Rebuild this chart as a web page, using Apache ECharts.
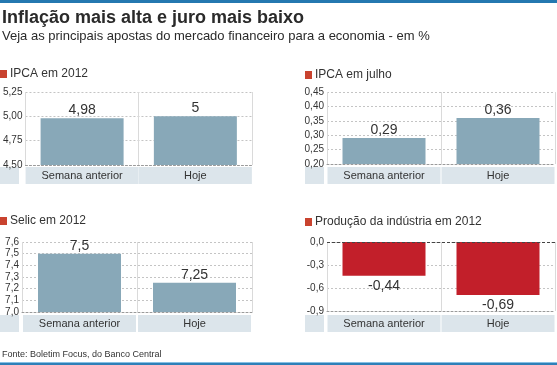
<!DOCTYPE html>
<html>
<head>
<meta charset="utf-8">
<script src="https://cdn.jsdelivr.net/npm/echarts@6/dist/echarts.min.js"></script>
<style>html,body{margin:0;padding:0;background:#fff}#c{width:557px;height:365px}</style>
</head>
<body>
<div id="c"></div>
<script>
const categories = ['Semana anterior', 'Hoje'];
const ipcaAno = [4.98, 5];
const ipcaJulho = [0.29, 0.36];
const selicAno = [7.5, 7.25];
const producaoAno = [-0.44, -0.69];
const ipcaAnoTicks = [4.50, 4.75, 5.00, 5.25];
const ipcaJulhoTicks = [0.20, 0.25, 0.30, 0.35, 0.40, 0.45];
const selicTicks = [7.0, 7.1, 7.2, 7.3, 7.4, 7.5, 7.6];
const producaoTicks = [-0.9, -0.6, -0.3, 0.0];
const panelTitles = ['IPCA em 2012', 'IPCA em julho', 'Selic em 2012', 'Produção da indústria em 2012'];
const mainTitle = 'Inflação mais alta e juro mais baixo';
const subTitle = 'Veja as principais apostas do mercado financeiro para a economia - em %';
const footer = 'Fonte: Boletim Focus, do Banco Central';

const FONT = '"Liberation Sans", Arial, sans-serif';
const comma = v => String(v).replace('.', ',');

function yAxisFor(ticks, decimals, gi) {
  const step = Math.round((ticks[1] - ticks[0]) * 1000) / 1000;
  return {
    type: 'value', gridIndex: gi,
    min: ticks[0], max: ticks[ticks.length - 1], interval: step,
    axisLine: {show: false}, axisTick: {show: false},
    splitLine: {show: true, lineStyle: {color: '#c4c4c4', type: [2, 2], width: 1}},
    axisLabel: {fontFamily: FONT, fontSize: 10, color: '#333', margin: 3,
      formatter: v => v.toFixed(decimals).replace('.', ',')}
  };
}
function xAxisFor(gi, margin) {
  return {
    type: 'category', gridIndex: gi, data: categories,
    axisTick: {show: false},
    axisLine: {onZero: false, lineStyle: {color: '#9a9a9a', type: [2, 2], width: 1}},
    splitLine: {show: true, lineStyle: {color: '#dadada', width: 1}},
    axisLabel: {interval: 0, margin: margin, fontFamily: FONT, fontSize: 11, color: '#333',
      backgroundColor: '#dce5eb', width: 113, height: 17, lineHeight: 17, align: 'center', padding: 0}
  };
}
function barSeries(data, gi, color, pos) {
  return {
    type: 'bar', xAxisIndex: gi, yAxisIndex: gi, data: data, barWidth: 83,
    itemStyle: {color: color},
    label: {show: true, position: pos, distance: pos === 'top' ? 1 : 3, fontFamily: FONT, fontSize: 14, color: '#333',
      formatter: p => comma(p.value)},
    silent: true
  };
}

const chart = echarts.init(document.getElementById('c'), null, {renderer: 'canvas'});
const redSq = '#c9432f', band = '#dce5eb';
const g = [];
g.push({type: 'rect', shape: {x: 0, y: 0, width: 557, height: 3}, style: {fill: '#2478b0'}});
g.push({type: 'rect', shape: {x: 0, y: 362, width: 557, height: 1}, style: {fill: '#86c0e4'}});
g.push({type: 'rect', shape: {x: 0, y: 363, width: 557, height: 2}, style: {fill: '#2f80b8'}});
g.push({type: 'text', x: 2, y: 18, style: {text: mainTitle, font: 'bold 18px ' + FONT, fill: '#2a2a2a', verticalAlign: 'middle'}});
g.push({type: 'text', x: 2, y: 36, style: {text: subTitle, font: '13px ' + FONT, fill: '#2a2a2a', verticalAlign: 'middle'}});
g.push({type: 'text', x: 2, y: 355, style: {text: footer, font: '9px ' + FONT, fill: '#333', verticalAlign: 'middle'}});
const titlePos = [[0, 74], [305, 75], [0, 221], [305, 222]];
titlePos.forEach((p, i) => {
  g.push({type: 'rect', shape: {x: p[0], y: p[1] - 4, width: 7, height: 8}, style: {fill: redSq}});
  g.push({type: 'text', x: p[0] + 10, y: p[1], style: {text: panelTitles[i], font: '12px ' + FONT, fill: '#333', verticalAlign: 'middle'}});
});
[[0, 167, 19], [305, 167, 19], [0, 315, 19], [305, 315, 19]].forEach(c => {
  g.push({type: 'rect', shape: {x: c[0], y: c[1], width: c[2], height: 17}, style: {fill: band}});
});

const prodSeries = barSeries(producaoAno, 3, '#c21f2a', 'bottom');
prodSeries.markLine = {silent: true, symbol: 'none', label: {show: false},
  lineStyle: {color: '#444', type: [3, 2], width: 1}, data: [{yAxis: 0}]};

chart.setOption({
  animation: false,
  backgroundColor: '#fff',
  grid: [
    {left: 22, top: 92, width: 230, height: 73},
    {left: 327, top: 92, width: 230, height: 72},
    {left: 22, top: 242, width: 230, height: 70},
    {left: 327, top: 242, width: 230, height: 69}
  ],
  xAxis: [xAxisFor(0, 2), xAxisFor(1, 3), xAxisFor(2, 3), xAxisFor(3, 4)],
  yAxis: [yAxisFor(ipcaAnoTicks, 2, 0), yAxisFor(ipcaJulhoTicks, 2, 1), yAxisFor(selicTicks, 1, 2), yAxisFor(producaoTicks, 1, 3)],
  series: [
    barSeries(ipcaAno, 0, '#88a8b8', 'top'),
    barSeries(ipcaJulho, 1, '#88a8b8', 'top'),
    barSeries(selicAno, 2, '#88a8b8', 'top'),
    prodSeries
  ],
  graphic: {elements: g}
});
</script>
</body>
</html>
